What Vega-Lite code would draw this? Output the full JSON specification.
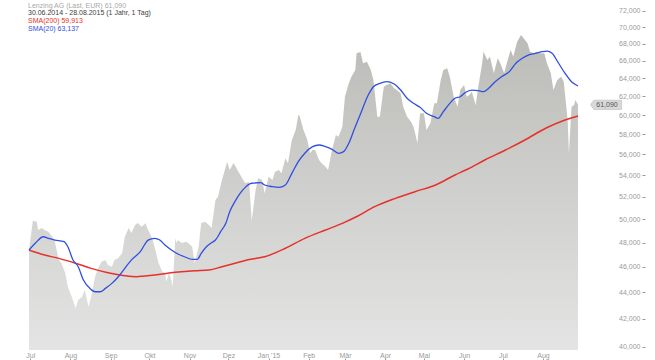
{
  "$schema": "https://vega.github.io/schema/vega-lite/v6.json",
  "width": 549,
  "height": 350,
  "autosize": {"type": "none"},
  "padding": {"left": 29, "top": 0, "right": 77, "bottom": 10},
  "background": "white",
  "config": {"view": {"stroke": null}, "font": "Liberation Sans"},
  "datasets": {
    "price": [
      {"date": "2014-06-30", "value": 47400}, {"date": "2014-07-03", "value": 49870}, {"date": "2014-07-06", "value": 49780},
      {"date": "2014-07-07", "value": 49065}, {"date": "2014-07-10", "value": 49240}, {"date": "2014-07-12", "value": 49065},
      {"date": "2014-07-15", "value": 48920}, {"date": "2014-07-18", "value": 48490}, {"date": "2014-07-20", "value": 48070},
      {"date": "2014-07-23", "value": 46550}, {"date": "2014-07-25", "value": 46310}, {"date": "2014-07-28", "value": 45510},
      {"date": "2014-07-30", "value": 44430}, {"date": "2014-08-02", "value": 43660}, {"date": "2014-08-05", "value": 42800},
      {"date": "2014-08-07", "value": 43405}, {"date": "2014-08-10", "value": 43660}, {"date": "2014-08-12", "value": 44170},
      {"date": "2014-08-15", "value": 42900}, {"date": "2014-08-17", "value": 43660}, {"date": "2014-08-20", "value": 45210},
      {"date": "2014-08-23", "value": 46010}, {"date": "2014-08-25", "value": 46420}, {"date": "2014-08-28", "value": 46550},
      {"date": "2014-08-30", "value": 46150}, {"date": "2014-09-02", "value": 46010}, {"date": "2014-09-04", "value": 46550},
      {"date": "2014-09-07", "value": 46720}, {"date": "2014-09-10", "value": 47130}, {"date": "2014-09-12", "value": 48490},
      {"date": "2014-09-15", "value": 49240}, {"date": "2014-09-17", "value": 48810}, {"date": "2014-09-20", "value": 49500},
      {"date": "2014-09-22", "value": 49670}, {"date": "2014-09-25", "value": 49350}, {"date": "2014-09-28", "value": 49640},
      {"date": "2014-09-30", "value": 49065}, {"date": "2014-10-03", "value": 48380}, {"date": "2014-10-05", "value": 47650},
      {"date": "2014-10-08", "value": 46310}, {"date": "2014-10-11", "value": 45610}, {"date": "2014-10-13", "value": 45510},
      {"date": "2014-10-14", "value": 44820}, {"date": "2014-10-16", "value": 45510}, {"date": "2014-10-18", "value": 44950},
      {"date": "2014-10-19", "value": 44400}, {"date": "2014-10-21", "value": 48380}, {"date": "2014-10-22", "value": 47960},
      {"date": "2014-10-23", "value": 48210}, {"date": "2014-10-26", "value": 47960}, {"date": "2014-10-29", "value": 48070},
      {"date": "2014-10-31", "value": 47960}, {"date": "2014-11-03", "value": 47650}, {"date": "2014-11-05", "value": 46310},
      {"date": "2014-11-08", "value": 47650}, {"date": "2014-11-10", "value": 49670}, {"date": "2014-11-13", "value": 49780},
      {"date": "2014-11-16", "value": 49500}, {"date": "2014-11-18", "value": 49240}, {"date": "2014-11-21", "value": 51710},
      {"date": "2014-11-23", "value": 52010}, {"date": "2014-11-26", "value": 53550}, {"date": "2014-11-29", "value": 54820},
      {"date": "2014-11-30", "value": 55300}, {"date": "2014-12-02", "value": 54500}, {"date": "2014-12-05", "value": 55170},
      {"date": "2014-12-08", "value": 54500}, {"date": "2014-12-11", "value": 53870}, {"date": "2014-12-14", "value": 53240},
      {"date": "2014-12-17", "value": 53390}, {"date": "2014-12-19", "value": 49840}, {"date": "2014-12-22", "value": 52625},
      {"date": "2014-12-24", "value": 53710}, {"date": "2014-12-27", "value": 53550}, {"date": "2014-12-29", "value": 52320},
      {"date": "2015-01-01", "value": 53870}, {"date": "2015-01-04", "value": 53550}, {"date": "2015-01-06", "value": 54340},
      {"date": "2015-01-09", "value": 54500}, {"date": "2015-01-11", "value": 54180}, {"date": "2015-01-14", "value": 55630},
      {"date": "2015-01-16", "value": 55140}, {"date": "2015-01-19", "value": 57440}, {"date": "2015-01-22", "value": 58450},
      {"date": "2015-01-24", "value": 60010}, {"date": "2015-01-25", "value": 59900}, {"date": "2015-01-28", "value": 58450},
      {"date": "2015-01-31", "value": 57440}, {"date": "2015-02-02", "value": 56120}, {"date": "2015-02-04", "value": 56440},
      {"date": "2015-02-06", "value": 56440}, {"date": "2015-02-09", "value": 55460}, {"date": "2015-02-11", "value": 55140},
      {"date": "2015-02-14", "value": 54820}, {"date": "2015-02-16", "value": 54500}, {"date": "2015-02-19", "value": 56440},
      {"date": "2015-02-22", "value": 57940}, {"date": "2015-02-24", "value": 57770}, {"date": "2015-02-27", "value": 58790},
      {"date": "2015-03-01", "value": 61960}, {"date": "2015-03-04", "value": 63430}, {"date": "2015-03-06", "value": 64170},
      {"date": "2015-03-09", "value": 64930}, {"date": "2015-03-10", "value": 66850}, {"date": "2015-03-13", "value": 67000},
      {"date": "2015-03-15", "value": 65700}, {"date": "2015-03-18", "value": 65880}, {"date": "2015-03-21", "value": 64930},
      {"date": "2015-03-23", "value": 63800}, {"date": "2015-03-26", "value": 59830}, {"date": "2015-03-28", "value": 59830},
      {"date": "2015-03-31", "value": 63060}, {"date": "2015-04-02", "value": 63245}, {"date": "2015-04-05", "value": 63430},
      {"date": "2015-04-08", "value": 62880}, {"date": "2015-04-10", "value": 62690}, {"date": "2015-04-13", "value": 62330},
      {"date": "2015-04-15", "value": 60890}, {"date": "2015-04-18", "value": 59830}, {"date": "2015-04-21", "value": 59310},
      {"date": "2015-04-23", "value": 58790}, {"date": "2015-04-26", "value": 57110}, {"date": "2015-04-28", "value": 60190},
      {"date": "2015-05-01", "value": 60190}, {"date": "2015-05-03", "value": 58450}, {"date": "2015-05-06", "value": 59140},
      {"date": "2015-05-09", "value": 61250}, {"date": "2015-05-11", "value": 61250}, {"date": "2015-05-14", "value": 63800},
      {"date": "2015-05-16", "value": 64930}, {"date": "2015-05-19", "value": 65120}, {"date": "2015-05-21", "value": 64170},
      {"date": "2015-05-24", "value": 61960}, {"date": "2015-05-27", "value": 60890}, {"date": "2015-05-29", "value": 62690},
      {"date": "2015-06-01", "value": 63245}, {"date": "2015-06-03", "value": 61960}, {"date": "2015-06-05", "value": 62150},
      {"date": "2015-06-07", "value": 62510}, {"date": "2015-06-10", "value": 61070}, {"date": "2015-06-12", "value": 63060},
      {"date": "2015-06-15", "value": 65700}, {"date": "2015-06-16", "value": 67040}, {"date": "2015-06-19", "value": 66075},
      {"date": "2015-06-21", "value": 66460}, {"date": "2015-06-24", "value": 64550}, {"date": "2015-06-27", "value": 66270},
      {"date": "2015-06-29", "value": 65700}, {"date": "2015-07-02", "value": 64550}, {"date": "2015-07-04", "value": 65700},
      {"date": "2015-07-07", "value": 67240}, {"date": "2015-07-09", "value": 66460}, {"date": "2015-07-12", "value": 68230},
      {"date": "2015-07-15", "value": 69030}, {"date": "2015-07-17", "value": 68630}, {"date": "2015-07-20", "value": 68030},
      {"date": "2015-07-22", "value": 67040}, {"date": "2015-07-25", "value": 66850}, {"date": "2015-07-27", "value": 67040},
      {"date": "2015-07-30", "value": 66850}, {"date": "2015-08-02", "value": 66850}, {"date": "2015-08-04", "value": 65700},
      {"date": "2015-08-07", "value": 64550}, {"date": "2015-08-09", "value": 62690}, {"date": "2015-08-12", "value": 63800},
      {"date": "2015-08-15", "value": 64170}, {"date": "2015-08-17", "value": 63610}, {"date": "2015-08-20", "value": 59490},
      {"date": "2015-08-21", "value": 56110}, {"date": "2015-08-23", "value": 60890}, {"date": "2015-08-25", "value": 61070},
      {"date": "2015-08-26", "value": 61600}, {"date": "2015-08-28", "value": 61090}
    ],
    "sma20": [
      {"date": "2014-06-30", "value": 47380}, {"date": "2014-07-05", "value": 47960}, {"date": "2014-07-11", "value": 48490},
      {"date": "2014-07-15", "value": 48350}, {"date": "2014-07-20", "value": 48210}, {"date": "2014-07-27", "value": 48070},
      {"date": "2014-07-30", "value": 47650}, {"date": "2014-08-03", "value": 46550}, {"date": "2014-08-07", "value": 46010},
      {"date": "2014-08-11", "value": 44950}, {"date": "2014-08-16", "value": 44300}, {"date": "2014-08-20", "value": 44040},
      {"date": "2014-08-24", "value": 44040}, {"date": "2014-08-28", "value": 44300}, {"date": "2014-09-02", "value": 44690},
      {"date": "2014-09-07", "value": 45210}, {"date": "2014-09-12", "value": 45880}, {"date": "2014-09-17", "value": 46550},
      {"date": "2014-09-24", "value": 47240}, {"date": "2014-09-30", "value": 48210}, {"date": "2014-10-05", "value": 48350},
      {"date": "2014-10-09", "value": 48210}, {"date": "2014-10-13", "value": 47790}, {"date": "2014-10-18", "value": 47380},
      {"date": "2014-10-23", "value": 47050}, {"date": "2014-10-29", "value": 46780}, {"date": "2014-11-03", "value": 46610},
      {"date": "2014-11-07", "value": 46610}, {"date": "2014-11-10", "value": 47100}, {"date": "2014-11-14", "value": 47650},
      {"date": "2014-11-18", "value": 47990}, {"date": "2014-11-21", "value": 48210}, {"date": "2014-11-25", "value": 48920},
      {"date": "2014-11-29", "value": 49640}, {"date": "2014-12-02", "value": 50660}, {"date": "2014-12-06", "value": 51560},
      {"date": "2014-12-10", "value": 52310}, {"date": "2014-12-14", "value": 52870}, {"date": "2014-12-19", "value": 53250},
      {"date": "2014-12-26", "value": 53300}, {"date": "2014-12-29", "value": 53090}, {"date": "2015-01-04", "value": 52930},
      {"date": "2015-01-09", "value": 52870}, {"date": "2015-01-14", "value": 53090}, {"date": "2015-01-19", "value": 54180},
      {"date": "2015-01-24", "value": 55300}, {"date": "2015-01-29", "value": 56120}, {"date": "2015-02-04", "value": 56770},
      {"date": "2015-02-09", "value": 56940}, {"date": "2015-02-14", "value": 56770}, {"date": "2015-02-19", "value": 56510},
      {"date": "2015-02-24", "value": 56120}, {"date": "2015-02-28", "value": 56280}, {"date": "2015-03-04", "value": 57110},
      {"date": "2015-03-08", "value": 58450}, {"date": "2015-03-13", "value": 60110}, {"date": "2015-03-19", "value": 62150},
      {"date": "2015-03-23", "value": 63060}, {"date": "2015-03-28", "value": 63430}, {"date": "2015-04-02", "value": 63610},
      {"date": "2015-04-08", "value": 63360}, {"date": "2015-04-13", "value": 62690}, {"date": "2015-04-18", "value": 61790},
      {"date": "2015-04-23", "value": 61250}, {"date": "2015-04-28", "value": 60820}, {"date": "2015-05-03", "value": 60190},
      {"date": "2015-05-09", "value": 59830}, {"date": "2015-05-12", "value": 59660}, {"date": "2015-05-16", "value": 60360},
      {"date": "2015-05-21", "value": 61250}, {"date": "2015-05-25", "value": 61790}, {"date": "2015-05-29", "value": 61960},
      {"date": "2015-06-02", "value": 62420}, {"date": "2015-06-07", "value": 62690}, {"date": "2015-06-12", "value": 62620},
      {"date": "2015-06-16", "value": 62510}, {"date": "2015-06-20", "value": 62880}, {"date": "2015-06-25", "value": 63610},
      {"date": "2015-06-30", "value": 64170}, {"date": "2015-07-06", "value": 64740}, {"date": "2015-07-11", "value": 65700},
      {"date": "2015-07-16", "value": 66270}, {"date": "2015-07-21", "value": 66660}, {"date": "2015-07-26", "value": 66850},
      {"date": "2015-07-31", "value": 67040}, {"date": "2015-08-04", "value": 67120}, {"date": "2015-08-08", "value": 66850},
      {"date": "2015-08-13", "value": 65700}, {"date": "2015-08-18", "value": 64550}, {"date": "2015-08-23", "value": 63610},
      {"date": "2015-08-28", "value": 63137}
    ],
    "sma200": [
      {"date": "2014-06-30", "value": 47380}, {"date": "2014-07-12", "value": 46960}, {"date": "2014-07-23", "value": 46690},
      {"date": "2014-08-05", "value": 46290}, {"date": "2014-08-17", "value": 45880}, {"date": "2014-08-30", "value": 45530},
      {"date": "2014-09-12", "value": 45290}, {"date": "2014-09-21", "value": 45210}, {"date": "2014-10-05", "value": 45350},
      {"date": "2014-10-21", "value": 45560}, {"date": "2014-11-05", "value": 45690}, {"date": "2014-11-16", "value": 45750},
      {"date": "2014-11-26", "value": 46010}, {"date": "2014-12-06", "value": 46290}, {"date": "2014-12-16", "value": 46580},
      {"date": "2014-12-29", "value": 46820}, {"date": "2015-01-14", "value": 47520}, {"date": "2015-01-29", "value": 48350},
      {"date": "2015-02-14", "value": 49065}, {"date": "2015-02-27", "value": 49640}, {"date": "2015-03-11", "value": 50280},
      {"date": "2015-03-24", "value": 51110}, {"date": "2015-04-09", "value": 51860}, {"date": "2015-04-24", "value": 52470},
      {"date": "2015-05-10", "value": 53090}, {"date": "2015-05-25", "value": 54030}, {"date": "2015-06-04", "value": 54600},
      {"date": "2015-06-17", "value": 55460}, {"date": "2015-07-03", "value": 56440}, {"date": "2015-07-18", "value": 57440},
      {"date": "2015-08-03", "value": 58630}, {"date": "2015-08-18", "value": 59490}, {"date": "2015-08-28", "value": 59913}
    ],
    "header": [
      {"line": "Lenzing AG (Last, EUR)  61,090", "kind": "name"},
      {"line": "30.06.2014 - 28.08.2015 (1 Jahr, 1 Tag)", "kind": "range"},
      {"line": "SMA(200)  59,913", "kind": "sma200"},
      {"line": "SMA(20)  63,137", "kind": "sma20"}
    ],
    "last": [
      {"date": "2015-08-28", "value": 61090, "label": "61,090"}
    ]
  },
  "resolve": {"scale": {"y": "independent"}, "axis": {"y": "independent"}},
  "layer": [
    {
      "layer": [
        {
          "data": {"name": "price"},
          "mark": {
            "type": "area", "interpolate": "linear",
            "color": {"gradient": "linear", "x1": 0, "y1": 0, "x2": 0, "y2": 1,
              "stops": [{"offset": 0, "color": "#bbbbb7"}, {"offset": 1, "color": "#e4e4e4"}]}
          },
          "encoding": {
            "x": {
              "field": "date", "type": "temporal",
              "scale": {"domain": ["2014-06-30", "2015-08-28"]},
              "axis": {
                "title": null, "orient": "bottom", "offset": 8, "domain": false, "grid": false,
                "tickCount": {"interval": "month", "step": 1},
                "tickSize": 3, "tickColor": "#999999", "labelPadding": -10,
                "labelFontSize": 7, "labelColor": "#9a9a9a", "labelFont": "Liberation Sans",
                "labelExpr": "month(datum.value) == 0 ? 'Jan \\'15' : ['Jan','Feb','Mär','Apr','Mai','Jun','Jul','Aug','Sep','Okt','Nov','Dez'][month(datum.value)]"
              }
            },
            "y": {
              "field": "value", "type": "quantitative",
              "scale": {"type": "log", "domain": [39769, 73393], "nice": false, "zero": false},
              "axis": {
                "title": null, "orient": "right", "offset": 64, "domain": false, "grid": false,
                "values": [40000, 42000, 44000, 46000, 48000, 50000, 52000, 54000, 56000, 58000, 60000, 62000, 64000, 66000, 68000, 70000, 72000],
                "format": ",.0f", "tickSize": 3, "tickColor": "#999999",
                "labelAlign": "right", "labelPadding": -5, "labelBaseline": "middle",
                "labelFontSize": 7, "labelColor": "#9a9a9a", "labelFont": "Liberation Sans"
              }
            },
            "y2": {"datum": 39769}
          }
        },
        {
          "data": {"name": "sma200"},
          "mark": {"type": "line", "color": "#e8302a", "strokeWidth": 1.5, "interpolate": "monotone"},
          "encoding": {
            "x": {"field": "date", "type": "temporal"},
            "y": {"field": "value", "type": "quantitative"}
          }
        },
        {
          "data": {"name": "sma20"},
          "mark": {"type": "line", "color": "#2f4fe0", "strokeWidth": 1.3, "interpolate": "monotone"},
          "encoding": {
            "x": {"field": "date", "type": "temporal"},
            "y": {"field": "value", "type": "quantitative"}
          }
        },
        {
          "data": {"name": "last"},
          "mark": {"type": "point", "shape": "M-1,0L-0.78,-0.3L1,-0.3L1,0.3L-0.78,0.3Z", "size": 961, "filled": true, "fill": "#d9d9d9", "stroke": "#b0b0b0", "strokeWidth": 0.5, "opacity": 1},
          "encoding": {
            "x": {"field": "date", "type": "temporal"},
            "y": {"field": "value", "type": "quantitative"},
            "xOffset": {"value": 28}
          }
        },
        {
          "data": {"name": "last"},
          "mark": {"type": "text", "fontSize": 7, "color": "#555555", "align": "center", "baseline": "middle", "dx": 29, "font": "Liberation Sans"},
          "encoding": {
            "x": {"field": "date", "type": "temporal"},
            "y": {"field": "value", "type": "quantitative"},
            "text": {"field": "label"}
          }
        }
      ]
    },
    {
      "data": {"name": "header"},
      "mark": {"type": "text", "fontSize": 7, "align": "left", "baseline": "middle", "dx": -1, "font": "Liberation Sans"},
      "encoding": {
        "x": {"datum": {"year": 2014, "month": 6, "date": 30}, "type": "temporal"},
        "y": {"field": "kind", "type": "ordinal", "axis": null,
          "scale": {"type": "point", "domain": ["name", "range", "sma200", "sma20"], "range": [5.7, 28.5], "padding": 0}},
        "text": {"field": "line"},
        "color": {"field": "kind", "type": "nominal", "legend": null,
          "scale": {"domain": ["name", "range", "sma200", "sma20"], "range": ["#a8a8a8", "#404040", "#e8302a", "#2f4fe0"]}}
      }
    }
  ]
}
